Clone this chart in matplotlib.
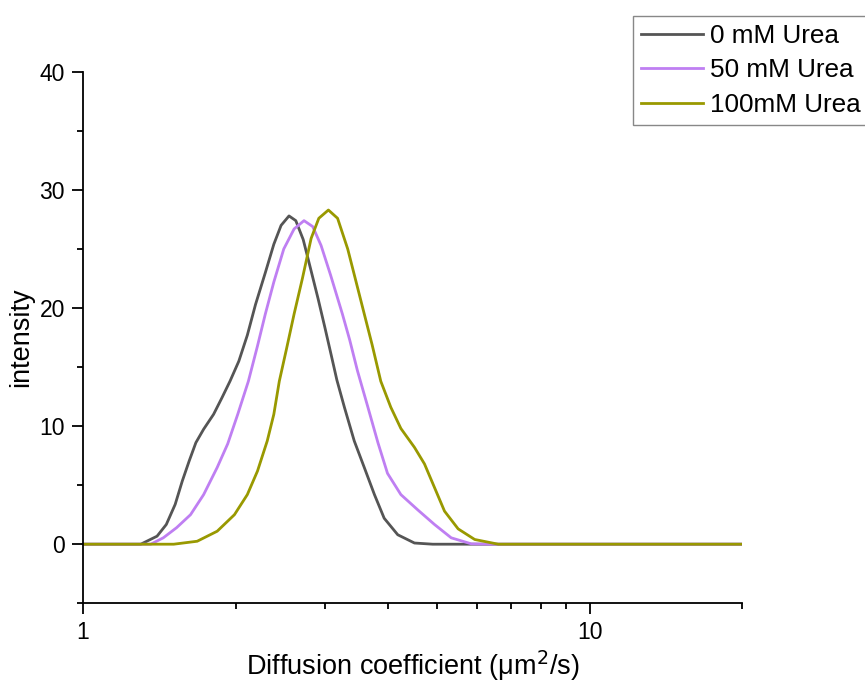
import matplotlib
matplotlib.use("Agg")
import matplotlib.pyplot as plt
from matplotlib.ticker import FixedLocator, MultipleLocator, NullFormatter

plt.rcParams['font.family'] = ['Liberation Sans', 'DejaVu Sans']

# Diffusion coefficient distributions (um^2/s vs intensity)
d_0mm = [1.0, 1.30, 1.40, 1.46, 1.52, 1.57, 1.62, 1.67, 1.73, 1.81, 1.88, 1.95, 2.03,
         2.11, 2.19, 2.29, 2.38, 2.46, 2.55, 2.63, 2.72, 2.81, 2.91, 3.00, 3.09, 3.17,
         3.28, 3.43, 3.59, 3.76, 3.93, 4.18, 4.51, 4.90, 20.0]
i_0mm = [0.0, 0.0, 0.68, 1.67, 3.37, 5.35, 7.05, 8.6, 9.74, 11.0, 12.4, 13.8, 15.5,
         17.7, 20.3, 23.0, 25.4, 27.0, 27.8, 27.4, 25.8, 23.4, 20.8, 18.4, 16.0, 13.9,
         11.6, 8.75, 6.5, 4.2, 2.2, 0.8, 0.1, 0.0, 0.0]

d_50mm = [1.0, 1.36, 1.44, 1.53, 1.63, 1.73, 1.84, 1.93, 2.02, 2.12, 2.21, 2.29, 2.38,
          2.49, 2.61, 2.73, 2.84, 2.95, 3.08, 3.25, 3.36, 3.48, 3.65, 3.82, 3.99, 4.24,
          4.58, 4.94, 5.33, 5.84, 6.40, 20.0]
i_50mm = [0.0, 0.0, 0.54, 1.4, 2.5, 4.2, 6.5, 8.5, 11.0, 13.8, 16.8, 19.5, 22.2,
          25.0, 26.7, 27.4, 26.9, 25.3, 22.8, 19.5, 17.3, 14.7, 11.6, 8.6, 6.0, 4.2,
          2.9, 1.67, 0.54, 0.03, 0.0, 0.0]

d_100mm = [1.0, 1.51, 1.68, 1.84, 1.99, 2.11, 2.21, 2.31, 2.38, 2.44, 2.52, 2.61, 2.71,
           2.82, 2.92, 3.05, 3.18, 3.33, 3.46, 3.59, 3.72, 3.87, 4.05, 4.24, 4.51, 4.72,
           4.94, 5.17, 5.50, 5.93, 6.60, 20.0]
i_100mm = [0.0, 0.0, 0.25, 1.1, 2.5, 4.2, 6.2, 8.75, 11.0, 13.8, 16.5, 19.5, 22.5,
           25.9, 27.6, 28.3, 27.6, 25.0, 22.2, 19.5, 16.9, 13.8, 11.6, 9.8, 8.2, 6.8,
           4.8, 2.8, 1.3, 0.4, 0.0, 0.0]

labels = ['0 mM Urea', '50 mM Urea', '100mM Urea']
colors = ['#555555', '#bf7ff2', '#999900']

fig = plt.figure(figsize=(8.65, 6.91), dpi=100)
ax = fig.add_axes([0.096, 0.127, 0.762, 0.769])

for d, i, lab, c in zip([d_0mm, d_50mm, d_100mm], [i_0mm, i_50mm, i_100mm], labels, colors):
    ax.plot(d, i, color=c, lw=2.0, label=lab, solid_joinstyle='round')

ax.set_xscale('log')
ax.set_xlim(1, 20)
ax.set_ylim(-5, 40)

ax.xaxis.set_major_locator(FixedLocator([1, 10]))
ax.xaxis.set_major_formatter(plt.FuncFormatter(lambda v, p: f'{v:g}'))
ax.xaxis.set_minor_locator(FixedLocator([2, 3, 4, 5, 6, 7, 8, 9, 20]))
ax.xaxis.set_minor_formatter(NullFormatter())
ax.yaxis.set_major_locator(MultipleLocator(10))
ax.yaxis.set_minor_locator(MultipleLocator(5))

for side in ['top', 'right']:
    ax.spines[side].set_visible(False)
for side in ['left', 'bottom']:
    ax.spines[side].set_linewidth(1.3)

ax.tick_params(which='major', direction='out', length=8, width=1.3, labelsize=16.5, pad=5)
ax.tick_params(which='minor', direction='out', length=4, width=1.3)

ax.set_xlabel('Diffusion coefficient (\u03bcm$^2$/s)', fontsize=19.5, labelpad=3)
ax.set_ylabel('intensity', fontsize=19.5, labelpad=4)

leg = fig.legend(loc='upper right', bbox_to_anchor=(1.004, 1 - 16 / 691), fontsize=18.8,
                 frameon=True, fancybox=False, edgecolor='#888888', framealpha=1,
                 handlelength=2.4, handletextpad=0.25, labelspacing=0.4,
                 borderpad=0.3, borderaxespad=0)
leg.get_frame().set_linewidth(1.0)

fig.savefig('out.png', dpi=100)
